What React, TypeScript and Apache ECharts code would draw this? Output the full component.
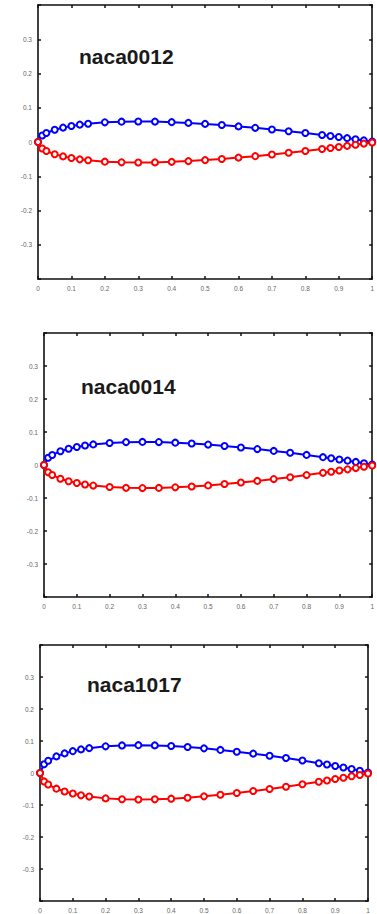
import React, { useEffect, useRef } from "react";
import * as echarts from "echarts";

// chordwise stations
const xs = [0, 0.0125, 0.025, 0.05, 0.075, 0.1, 0.125, 0.15, 0.2, 0.25, 0.3, 0.35, 0.4, 0.45, 0.5, 0.55, 0.6, 0.65, 0.7, 0.75, 0.8, 0.85, 0.875, 0.9, 0.925, 0.95, 0.975, 1.0];

const upper0012 = [0, 0.0189, 0.0262, 0.0356, 0.042, 0.0468, 0.0507, 0.0535, 0.0574, 0.0594, 0.06, 0.0595, 0.058, 0.0558, 0.0529, 0.0495, 0.0456, 0.0413, 0.0366, 0.0316, 0.0262, 0.0204, 0.0175, 0.0145, 0.0113, 0.0081, 0.0047, 0.0013];
const lower0012 = [0, -0.0189, -0.0262, -0.0356, -0.042, -0.0468, -0.0507, -0.0535, -0.0574, -0.0594, -0.06, -0.0595, -0.058, -0.0558, -0.0529, -0.0495, -0.0456, -0.0413, -0.0366, -0.0316, -0.0262, -0.0204, -0.0175, -0.0145, -0.0113, -0.0081, -0.0047, -0.0013];

const upper0014 = [0, 0.0221, 0.0305, 0.0415, 0.049, 0.0546, 0.0592, 0.0624, 0.0669, 0.0693, 0.07, 0.0694, 0.0677, 0.0651, 0.0618, 0.0578, 0.0532, 0.0482, 0.0427, 0.0369, 0.0306, 0.0238, 0.0205, 0.0169, 0.0132, 0.0094, 0.0055, 0.0015];
const lower0014 = [0, -0.0221, -0.0305, -0.0415, -0.049, -0.0546, -0.0592, -0.0624, -0.0669, -0.0693, -0.07, -0.0694, -0.0677, -0.0651, -0.0618, -0.0578, -0.0532, -0.0482, -0.0427, -0.0369, -0.0306, -0.0238, -0.0205, -0.0169, -0.0132, -0.0094, -0.0055, -0.0015];

const upper1017 = [0, 0.0273, 0.0381, 0.0519, 0.0613, 0.0683, 0.0738, 0.0777, 0.0833, 0.0862, 0.087, 0.0863, 0.0842, 0.0811, 0.077, 0.0722, 0.0666, 0.0605, 0.0539, 0.0468, 0.0392, 0.0307, 0.0264, 0.022, 0.0172, 0.0124, 0.0072, 0.0018];
const lower1017 = [0, -0.0263, -0.0361, -0.0489, -0.0577, -0.0643, -0.0698, -0.0737, -0.0793, -0.0822, -0.083, -0.0823, -0.0802, -0.0771, -0.073, -0.0682, -0.0626, -0.0565, -0.0499, -0.0428, -0.0352, -0.0271, -0.0232, -0.019, -0.0148, -0.0104, -0.0062, -0.0018];

const names = ["naca0012", "naca0014", "naca1017"];
const uppers = [upper0012, upper0014, upper1017];
const lowers = [lower0012, lower0014, lower1017];

const grids = [
  { left: 38, top: 5, width: 344, height: 274 },
  { left: 44, top: 333, width: 331, height: 264 },
  { left: 40, top: 645, width: 328, height: 258 },
];
const titlePos = [
  { left: 79, top: 46 },
  { left: 81, top: 376 },
  { left: 87, top: 674 },
];

const fmtX = (v: number) => {
  const r = Math.round(v * 10) / 10;
  return r === 0 ? "0" : r === 1 ? "1" : String(r);
};
const fmtY = (v: number) => {
  const r = Math.round(v * 10) / 10;
  if (Math.abs(r) > 0.35) return "";
  return r === 0 ? "0" : String(r);
};

export default function App() {
  const ref = useRef<HTMLDivElement>(null);
  useEffect(() => {
    document.body.style.margin = "0";
    const chart = echarts.init(ref.current!, null, { renderer: "svg" });
    const axisLine = { show: true, onZero: false, lineStyle: { color: "#111", width: 1.6 } };
    const axisTick = { show: true, inside: true, length: 3, lineStyle: { color: "#111", width: 1.5 } };
    const labelStyle = { fontSize: 6.5, color: "#666", fontFamily: "Liberation Sans, Arial, sans-serif" };
    const xAxis: any[] = [];
    const yAxis: any[] = [];
    grids.forEach((_, i) => {
      xAxis.push({
        type: "value", gridIndex: i, min: 0, max: 1, interval: 0.1, position: "bottom",
        axisLine, axisTick, splitLine: { show: false },
        axisLabel: { ...labelStyle, margin: 6, formatter: fmtX },
      });
      yAxis.push({
        type: "value", gridIndex: i, min: -0.4, max: 0.4, interval: 0.1, position: "left",
        axisLine, axisTick, splitLine: { show: false },
        axisLabel: { ...labelStyle, margin: 6, formatter: fmtY },
      });
    });
    grids.forEach((_, i) => {
      xAxis.push({
        type: "value", gridIndex: i, min: 0, max: 1, interval: 0.1, position: "top",
        axisLine, axisTick, splitLine: { show: false }, axisLabel: { show: false },
      });
      yAxis.push({
        type: "value", gridIndex: i, min: -0.4, max: 0.4, interval: 0.1, position: "right",
        axisLine, axisTick, splitLine: { show: false }, axisLabel: { show: false },
      });
    });
    const series: any[] = [];
    grids.forEach((_, i) => {
      const mk = (arr: number[], color: string) => ({
        type: "line",
        xAxisIndex: i,
        yAxisIndex: i,
        data: xs.map((x, k) => [x, arr[k]]),
        symbol: "emptyCircle",
        symbolSize: 6,
        clip: false,
        lineStyle: { color, width: 2 },
        itemStyle: { color, borderWidth: 1.4 },
      });
      series.push(mk(uppers[i], "#0000ff"));
      series.push(mk(lowers[i], "#ff0000"));
    });
    chart.setOption({
      animation: false,
      backgroundColor: "#fff",
      title: names.map((n, i) => ({
        text: n,
        left: titlePos[i].left,
        top: titlePos[i].top,
        padding: 0,
        textStyle: { fontSize: 21, fontWeight: "bold", color: "#1a1a1a", fontFamily: "Liberation Sans, Arial, sans-serif" },
      })),
      grid: grids,
      xAxis,
      yAxis,
      series,
    });
    return () => chart.dispose();
  }, []);
  return <div ref={ref} style={{ width: 377, height: 914 }} />;
}
